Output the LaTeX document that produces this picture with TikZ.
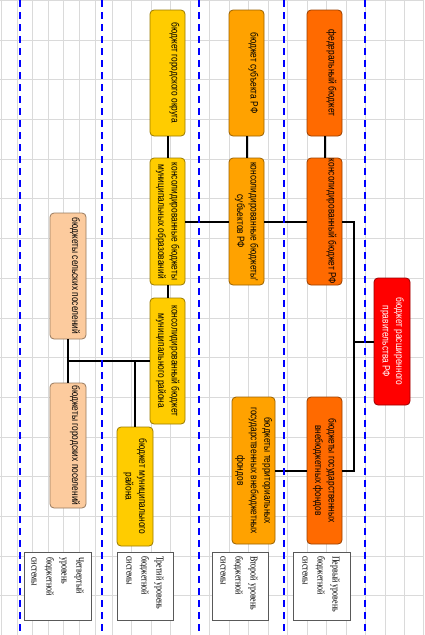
\documentclass[tikz,border=0pt]{standalone}
\usepackage{fontspec}
\usepackage{graphicx}
\newfontfamily\boxfont{Liberation Sans}[FakeStretch=0.79]
\newfontfamily\lvlfont{Liberation Serif}[FakeStretch=0.76]

\definecolor{budYellow}{HTML}{FFCC00}
\definecolor{budOrange}{HTML}{FFA200}
\definecolor{budDark}{HTML}{FF6A00}
\definecolor{budPeach}{HTML}{FCCB9E}
\definecolor{budRed}{HTML}{FF0000}
\definecolor{gridGray}{HTML}{DADADA}

% vertical (rotated) text inside a box
\newcommand{\vtext}[1]{\rotatebox{-90}{\begin{tabular}{@{}c@{}}#1\end{tabular}}}

\begin{document}
\begin{tikzpicture}[x=1pt, y=-1pt,
    budget/.style={rectangle, rounded corners=4pt, draw=#1!60!black, fill=#1,
        line width=0.8pt, inner sep=0pt, font=\boxfont\fontsize{10.6}{13.5}\selectfont},
    level/.style={rectangle, draw=black!65, fill=white, line width=0.8pt, inner sep=0pt},
    leveltext/.style={rotate=-90, anchor=north west, inner sep=0pt, align=left,
        font=\lvlfont\fontsize{10.5}{15}\selectfont},
    link/.style={line width=2pt, black},
    gridline/.style={gridGray, line width=0.8pt},
    divider/.style={blue, line width=2.5pt, dash pattern=on 7pt off 5pt}]

    \useasboundingbox[fill=white] (0,0) rectangle (424,635);

    % Box sizes
    \def\boxW{35}
    \def\boxH{126}

    % =========================================================================
    % Background grid
    % =========================================================================
    \foreach \gx in {1,17,32,48,63,79,95,112,131,151,170,190,209,229,248,268,287,307,326,346,365,385,404,423}
        \draw[gridline] (\gx,0) -- (\gx,635);
    \foreach \k in {0,...,16}
        \draw[gridline] (0,{0.3+39.7*\k}) -- (424,{0.3+39.7*\k});

    % =========================================================================
    % Top row: budgets
    % =========================================================================
    \node[budget=budYellow, minimum width=\boxW, minimum height=\boxH] (gorOkrug) at (167.5,73) {\vtext{бюджет городского округа\\\mbox{}}};
    \node[budget=budOrange, minimum width=\boxW, minimum height=\boxH] (subRF) at (246.5,73) {\vtext{бюджет субъекта РФ\\\mbox{}}};
    \node[budget=budDark, minimum width=\boxW, minimum height=\boxH] (fedB) at (324.5,73) {\vtext{федеральный бюджет\\\mbox{}}};

    % =========================================================================
    % Consolidated budgets
    % =========================================================================
    \node[budget=budYellow, minimum width=\boxW, minimum height=127] (konsMO) at (167.5,221.5) {\vtext{консолидированные бюджеты\\муниципальных образований}};
    \node[budget=budOrange, minimum width=\boxW, minimum height=127] (konsSub) at (246.5,221.5) {\vtext{консолидированные бюджеты'\\субъектов РФ}};
    \node[budget=budDark, minimum width=\boxW, minimum height=127] (konsRF) at (324.5,221.5) {\vtext{консолидированный бюджет РФ\\\mbox{}}};
    \node[budget=budRed, minimum width=36, minimum height=127, text=white] (rasPrav) at (392,341.5) {\vtext{бюджет расширенного\\правительства РФ}};

    % =========================================================================
    % Municipal level
    % =========================================================================
    \node[budget=budPeach, minimum width=36, minimum height=\boxH] (selPos) at (68,276) {\vtext{бюджеты сельских поселений\\\mbox{}}};
    \node[budget=budYellow, minimum width=\boxW, minimum height=\boxH] (konsMR) at (167.5,361) {\vtext{консолидированный бюджет\\муниципального района}};
    \node[budget=budPeach, minimum width=36, minimum height=125] (gorPos) at (68,445.5) {\vtext{бюджеты городских поселений\\\mbox{}}};
    \node[budget=budYellow, minimum width=36, minimum height=119] (bMR) at (135,486.5) {\vtext{бюджет муниципального\\района}};

    % =========================================================================
    % Extra-budgetary funds
    % =========================================================================
    \node[budget=budOrange, minimum width=43, minimum height=147] (terVF) at (253.5,470.5) {\vtext{бюджеты территориальных\\государственных внебюджетных\\фондов}};
    \node[budget=budDark, minimum width=\boxW, minimum height=147] (gosVF) at (324.5,470.5) {\vtext{бюджеты государственных\\внебюджетных фондов}};

    % =========================================================================
    % Levels of the budget system
    % =========================================================================
    \node[level, minimum width=67, minimum height=68] (lvlFour) at (57.5,586) {};
    \node[level, minimum width=56, minimum height=68] (lvlThree) at (145,586) {};
    \node[level, minimum width=56, minimum height=68] (lvlTwo) at (240,586) {};
    \node[level, minimum width=57, minimum height=68] (lvlOne) at (321.5,586) {};

    \node[leveltext] (lvlFourText) at (84,557) {Четвертый\\уровень\\бюджетной\\системы};
    \node[leveltext] (lvlThreeText) at (164,556) {Третий уровень\\бюджетной\\системы};
    \node[leveltext] (lvlTwoText) at (258,556) {Второй уровень\\бюджетной\\системы};
    \node[leveltext] (lvlOneText) at (340,556) {Первый уровень\\бюджетной\\системы};

    % =========================================================================
    % Connectors
    % =========================================================================
    \draw[link] (gorOkrug) -- (konsMO);
    \draw[link] (subRF) -- (konsSub);
    \draw[link] (fedB) -- (konsRF);
    \draw[link] (konsMO) -- (konsMR);

    \draw[link] (konsMO.east) -- (konsSub.west);
    \draw[link] (konsSub.east) -- (konsRF.west);

    \coordinate (jRF) at (354,221.5);
    \draw[link] (konsRF.east) -- (jRF) |- (gosVF.east);
    \draw[link] (rasPrav.west) -- (rasPrav.west -| jRF);
    \draw[link] (gosVF.west) -- (terVF.east);

    \coordinate (jMR) at (68,361);
    \draw[link] (konsMR.west) -- (jMR);
    \draw[link] (selPos.south) -- (gorPos.north);
    \draw[link] (bMR.north) -- (bMR.north |- konsMR.west);

    % =========================================================================
    % Dashed dividers between levels
    % =========================================================================
    \foreach \bx in {20,102,199,284,365}
        \draw[divider] (\bx,0) -- (\bx,635);

\end{tikzpicture}
\end{document}
